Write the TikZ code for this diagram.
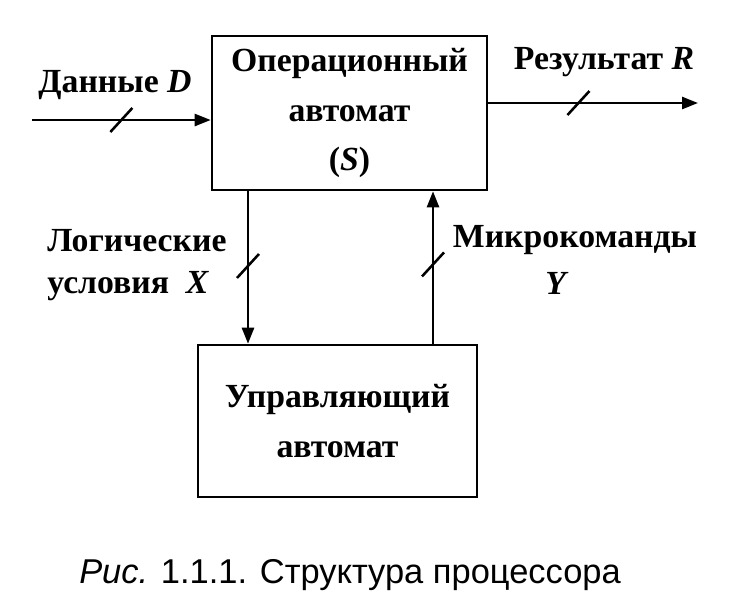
\documentclass[tikz,border=0pt]{standalone}
\usepackage{fontspec}
\setmainfont{Liberation Serif}
\newfontfamily\capfont{Liberation Sans}
\usetikzlibrary{arrows.meta}

\begin{document}
\begin{tikzpicture}[
    x=0.025cm, y=-0.025cm,
    block/.style={draw, line width=1.8pt, align=center, font=\fontsize{24}{35}\selectfont\bfseries},
    arrow/.style={-{Triangle[length=4mm, width=3mm]}, line width=1.8pt},
    lbl/.style={font=\fontsize{24}{30}\selectfont\bfseries, align=left},
    slash/.pic={\draw[-, line width=1.8pt] (-11,12) -- (11,-12);}
]
\useasboundingbox (0,0) rectangle (732,614);

% blocks
\node[block, minimum width=6.875cm, minimum height=3.85cm] (opbox) at (349.5,113)
    {Операционный\\автомат\\(\textit{S})};
\node[block, minimum width=6.975cm, minimum height=3.8cm] (ctrlbox) at (337.5,421)
    {Управляющий\\автомат};

% connectors
\coordinate (din) at (32,120);
\coordinate (rout) at (698,103);
\coordinate (xl) at (248,0);
\coordinate (xr) at (433,0);

\draw[arrow] (din) -- pic[pos=0.5]{slash} (din -| opbox.west);
\draw[arrow] (rout -| opbox.east) -- pic[pos=0.43]{slash} (rout);
\draw[arrow] (opbox.south -| xl) -- pic[pos=0.49]{slash} (ctrlbox.north -| xl);
\draw[arrow] (ctrlbox.north -| xr) -- pic[pos=0.52]{slash} (opbox.south -| xr);

% labels
\node[lbl] (ldata) at (115,85) {Данные \textit{D}};
\node[lbl] (lres) at (604,62) {Результат \textit{R}};
\node[lbl] (lcond) at (137,265) {Логические\\условия\enspace\textit{X}};
\node[lbl] (lmc) at (575,240) {Микрокоманды};
\node[lbl] (ly) at (557,283) {\textit{Y}};

% caption
\node[font=\capfont\fontsize{24.5}{28}\selectfont] (cap) at (350,575)
    {\textit{Рис.} 1.1.1. Структура процессора};
\end{tikzpicture}
\end{document}
